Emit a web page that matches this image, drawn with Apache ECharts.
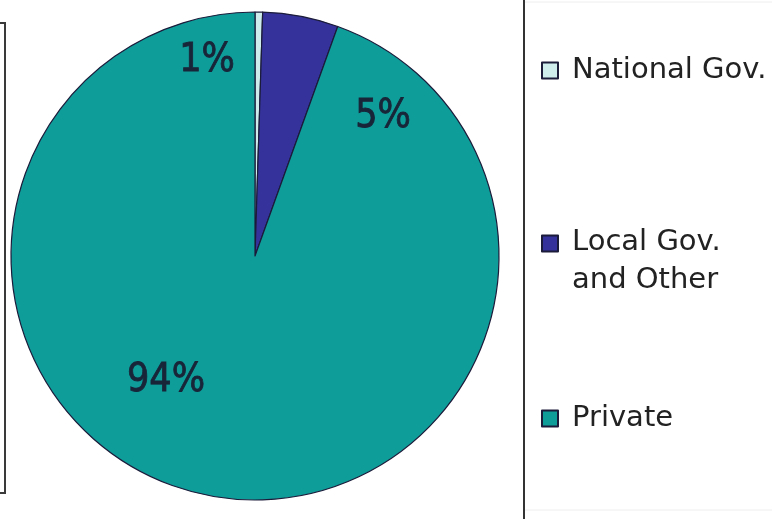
<!DOCTYPE html>
<html>
<head>
<meta charset="utf-8">
<script src="https://cdn.jsdelivr.net/npm/echarts@6/dist/echarts.min.js"></script>
<style>
  html, body { margin: 0; padding: 0; background: #ffffff; }
  #chart { width: 772px; height: 519px; }
</style>
</head>
<body>
<div id="chart"></div>
<script>
// Share of funding by source (percent)
const categories = ['National Gov.', 'Local Gov.\nand Other', 'Private'];
const shares = [0.5, 5.0, 94.4];
const sliceColors = ['#cdeceb', '#35339b', '#0f9d9a'];

// Where each percentage label sits on the canvas
const labelSpots = [[207, 61], [383, 117], [166, 381]];
// Vertical position of each legend entry
const legendTops = [52, 183, 400];

const chart = echarts.init(document.getElementById('chart'), null, { renderer: 'canvas' });

const legendText = {
  fontFamily: 'DejaVu Sans',
  fontSize: 29,
  color: '#222222',
  lineHeight: 37,
  padding: [0, 0, 0, 9]
};

// Two-line entry: the icon lines up with the first line
const twoLineText = Object.assign({}, legendText, {
  rich: {
    first: { fontFamily: 'DejaVu Sans', fontSize: 29, color: '#222222', lineHeight: 74, verticalAlign: 'bottom' },
    second: { fontFamily: 'DejaVu Sans', fontSize: 29, color: '#222222', lineHeight: 47 }
  }
});

const legends = categories.map((name, i) => ({
  orient: 'vertical',
  left: 541,
  top: legendTops[i],
  padding: 0,
  itemWidth: 16,
  itemHeight: 16,
  icon: 'rect',
  selectedMode: false,
  data: [name],
  formatter: n => {
    const parts = n.split('\n');
    return parts.length > 1 ? '{first|' + parts[0] + '}\n{second|' + parts[1] + '}' : n;
  },
  textStyle: i === 1 ? twoLineText : legendText
}));

chart.setOption({
  animation: false,
  backgroundColor: '#ffffff',
  color: sliceColors,
  legend: legends,
  graphic: [
    { type: 'polyline', shape: { points: [[0, 23], [5, 23], [5, 493], [0, 493]] },
      style: { stroke: '#3a3a3a', lineWidth: 2, fill: null } },
    { type: 'line', shape: { x1: 524, y1: 0, x2: 524, y2: 519 },
      style: { stroke: '#333333', lineWidth: 2 } },
    { type: 'line', shape: { x1: 525, y1: 2, x2: 772, y2: 2 },
      style: { stroke: '#eeeeee', lineWidth: 1 } },
    { type: 'line', shape: { x1: 525, y1: 510, x2: 772, y2: 510 },
      style: { stroke: '#eeeeee', lineWidth: 1 } }
  ],
  series: [{
    type: 'pie',
    center: [255, 256],
    radius: 244,
    startAngle: 90,
    clockwise: true,
    avoidLabelOverlap: false,
    silent: true,
    itemStyle: { borderColor: '#1b1b3a', borderWidth: 1.2 },
    label: {
      show: true,
      position: 'inside',
      formatter: p => Math.round(p.value) + '%',
      fontFamily: '"DejaVu Sans Condensed", sans-serif',
      fontSize: 39,
      color: '#182438',
      textBorderColor: '#182438',
      textBorderWidth: 0.8
    },
    labelLine: { show: false },
    labelLayout: p => ({
      x: labelSpots[p.dataIndex][0],
      y: labelSpots[p.dataIndex][1],
      align: 'center',
      verticalAlign: 'middle'
    }),
    data: categories.map((name, i) => ({ name: name, value: shares[i] }))
  }]
});
</script>
</body>
</html>
